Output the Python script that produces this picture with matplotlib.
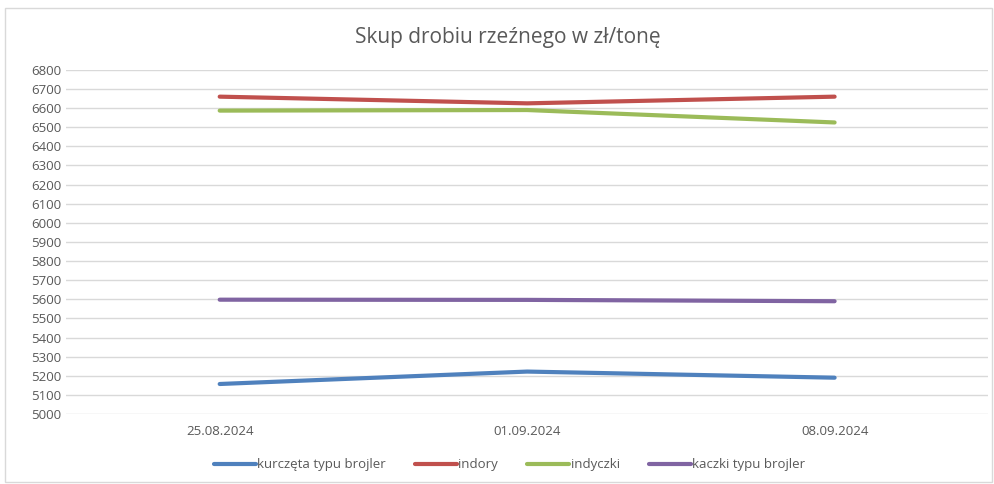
import matplotlib
matplotlib.use("Agg")
import matplotlib.pyplot as plt
from matplotlib.patches import Rectangle

plt.rcParams['font.family'] = ['Open Sans', 'DejaVu Sans']

dates = ['25.08.2024', '01.09.2024', '08.09.2024']
kurczeta = [5157, 5222, 5190]
indory = [6660, 6625, 6660]
indyczki = [6587, 6590, 6525]
kaczki = [5598, 5597, 5590]

series = [
    ('kurczęta typu brojler', kurczeta, '#4F81BD'),
    ('indory', indory, '#C0504D'),
    ('indyczki', indyczki, '#9BBB59'),
    ('kaczki typu brojler', kaczki, '#8064A2'),
]

fig = plt.figure(figsize=(9.95, 4.84), dpi=100)
ax = fig.add_axes([0.0663, 0.1446, 0.927, 0.711])

x = range(len(dates))
for name, vals, col in series:
    ax.plot(x, vals, color=col, lw=3, label=name, solid_capstyle='round')

ax.set_xlim(-0.5, 2.5)
ax.set_ylim(5000, 6800)
ax.set_yticks(range(5000, 6801, 100))
ax.set_xticks(list(x))
ax.set_xticklabels(dates)
ax.grid(axis='y', color='#d9d9d9', lw=1)
ax.set_axisbelow(True)
for s in ax.spines.values():
    s.set_visible(False)
ax.tick_params(length=0, labelsize=9.5, labelcolor='#595959')
ax.tick_params(axis='x', pad=8)

fig.text(0.51, 0.922, 'Skup drobiu rzeźnego w zł/tonę', ha='center', va='center',
         fontsize=15, color='#595959')

fig.legend(loc='center', bbox_to_anchor=(0.512, 0.04), ncol=4, frameon=False,
           fontsize=9.5, handlelength=3.2, handletextpad=0.1, columnspacing=2.2,
           labelcolor='#595959')

fig.patches.append(Rectangle((0.005, 0.005), 0.992, 0.978, transform=fig.transFigure,
                             fill=False, edgecolor='#d9d9d9', lw=1))

fig.savefig('out.png', dpi=100)
